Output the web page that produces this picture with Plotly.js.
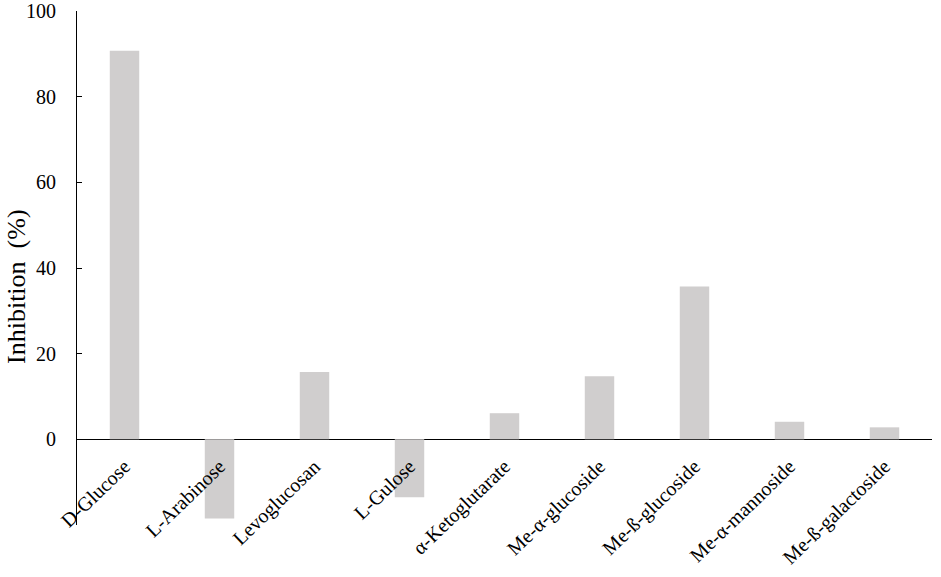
<!DOCTYPE html>
<html>
<head>
<meta charset="utf-8">
<script src="https://cdn.plot.ly/plotly-3.0.1.min.js"></script>
<style>body{margin:0;padding:0;background:#fff;}#chart{width:941px;height:577px;}</style>
</head>
<body>
<div id="chart"></div>
<script>
const categories = ["D-Glucose", "L-Arabinose", "Levoglucosan", "L-Gulose", "α-Ketoglutarate", "Me-α-glucoside", "Me-ß-glucoside", "Me-α-mannoside", "Me-ß-galactoside"];
const inhibition = [90.7, -18.5, 15.7, -13.5, 6.1, 14.7, 35.7, 4.1, 2.8];
const yTickVals = [-20, 0, 20, 40, 60, 80, 100];
const yTickText = ["", "0", "20", "40", "60", "80", "100"];
const yTitle = "Inhibition\u00a0 (%)";

const font = "Liberation Serif, Times New Roman, serif";

const trace = {
  type: "bar",
  x: categories,
  y: inhibition,
  width: 0.31,
  marker: {color: "#D0CECE", line: {width: 0}},
  hoverinfo: "x+y"
};

const layout = {
  width: 941,
  height: 577,
  margin: {l: 77, r: 9, t: 11, b: 52},
  paper_bgcolor: "#fff",
  plot_bgcolor: "#fff",
  showlegend: false,
  font: {family: font, color: "#000", size: 18},
  xaxis: {
    showline: false,
    ticks: "",
    showgrid: false,
    zeroline: false,
    tickangle: -44,
    ticklabelstandoff: -75,
    tickfont: {family: font, size: 20, color: "#000"},
    automargin: false
  },
  yaxis: {
    range: [-20, 100],
    domain: [0, 1],
    tickvals: yTickVals,
    ticktext: yTickText,
    ticks: "inside",
    ticklen: 5,
    tickcolor: "#000",
    showline: true,
    linecolor: "#000",
    linewidth: 1,
    showgrid: false,
    zeroline: true,
    zerolinecolor: "#000",
    zerolinewidth: 1,
    ticklabelstandoff: 16,
    tickfont: {family: font, size: 20, color: "#000"},
    automargin: false
  },
  annotations: [{
    text: yTitle,
    xref: "paper", yref: "paper",
    x: -0.0702, y: 0.465,
    xanchor: "center", yanchor: "middle",
    textangle: -90,
    showarrow: false,
    font: {family: font, size: 26, color: "#000"}
  }]
};

Plotly.newPlot("chart", [trace], layout, {displayModeBar: false, staticPlot: true});
</script>
</body>
</html>
